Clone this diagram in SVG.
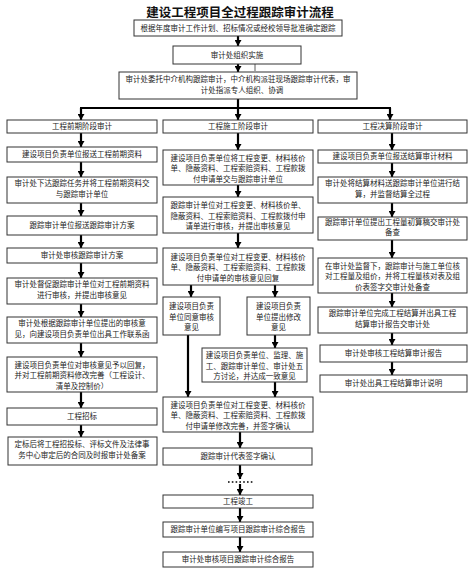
<svg xmlns="http://www.w3.org/2000/svg" width="474" height="568" viewBox="0 0 474 568">
<style>
.b{fill:#fff;stroke:#333;stroke-width:1}
.t{font-family:"Noto Sans CJK SC","Noto Sans",sans-serif;font-size:7.5px;fill:#222;text-anchor:middle}
.ti{font-family:"Noto Sans CJK SC","Noto Sans",sans-serif;font-size:12.5px;font-weight:bold;fill:#111;text-anchor:middle}
.c{stroke:#000;stroke-width:2.2;fill:none}
.ca{stroke:#000;stroke-width:2.2;fill:none;marker-end:url(#ah)}
</style>
<defs>
<marker id="ah" markerUnits="userSpaceOnUse" markerWidth="7" markerHeight="7" refX="6" refY="3.5" orient="auto">
<path d="M0,0 L6,3.5 L0,7 z" fill="#000"/>
</marker>
</defs>
<rect width="474" height="568" fill="#fff"/>
<text class="ti" x="240" y="16.5">建设工程项目全过程跟踪审计流程</text>

<g id="connectors">
<line class="ca" x1="238" y1="36" x2="238" y2="46"/>
<line class="ca" x1="238" y1="64" x2="238" y2="72"/>
<line x1="255" y1="56" x2="255" y2="71" stroke="#333" stroke-width="0.8"/>
<line class="c" x1="238" y1="99" x2="238" y2="108"/>
<line class="c" x1="80" y1="108" x2="391" y2="108"/>
<line class="ca" x1="81" y1="108" x2="81" y2="120"/>
<line class="ca" x1="238" y1="108" x2="238" y2="120"/>
<line class="ca" x1="390" y1="108" x2="390" y2="120"/>
<!-- left -->
<line class="ca" x1="81" y1="133" x2="81" y2="147"/>
<line class="ca" x1="81" y1="162" x2="81" y2="177"/>
<line class="ca" x1="81" y1="203" x2="81" y2="216"/>
<line class="ca" x1="81" y1="235" x2="81" y2="248"/>
<line class="ca" x1="81" y1="263" x2="81" y2="278"/>
<line class="ca" x1="81" y1="304" x2="81" y2="317"/>
<line class="ca" x1="81" y1="343" x2="81" y2="357"/>
<line class="ca" x1="81" y1="392" x2="81" y2="408"/>
<line class="ca" x1="81" y1="425" x2="81" y2="437"/>
<!-- middle -->
<line class="ca" x1="238" y1="133" x2="238" y2="150"/>
<line class="ca" x1="238" y1="185" x2="238" y2="197"/>
<line class="ca" x1="238" y1="233" x2="238" y2="248"/>
<line class="ca" x1="191" y1="285" x2="191" y2="297"/>
<line class="ca" x1="275" y1="285" x2="275" y2="297"/>
<line class="ca" x1="188" y1="335" x2="188" y2="397"/>
<line class="ca" x1="275" y1="335" x2="275" y2="348"/>
<line class="ca" x1="275" y1="382" x2="275" y2="397"/>
<line class="ca" x1="240" y1="432" x2="240" y2="448"/>
<line class="ca" x1="240" y1="465" x2="240" y2="479"/>
<line x1="228" y1="482" x2="254" y2="482" stroke="#000" stroke-width="1.6" stroke-dasharray="1.6,2.2"/>
<line class="ca" x1="240" y1="484" x2="240" y2="495"/>
<line class="ca" x1="240" y1="508" x2="240" y2="522"/>
<line class="ca" x1="240" y1="537" x2="240" y2="552"/>
<!-- right -->
<line class="ca" x1="392" y1="133" x2="392" y2="150"/>
<line class="ca" x1="392" y1="163" x2="392" y2="177"/>
<line class="ca" x1="392" y1="203" x2="392" y2="217"/>
<line class="ca" x1="392" y1="240" x2="392" y2="258"/>
<line class="ca" x1="392" y1="293" x2="392" y2="307"/>
<line class="ca" x1="392" y1="333" x2="392" y2="345"/>
<line class="ca" x1="392" y1="362" x2="392" y2="375"/>
</g>

<g id="top1"><rect class="b" x="134" y="20" width="208" height="16"/><text class="t" x="238" y="30.7">根据年度审计工作计划、招标情况或经校领导批准确定跟踪</text></g>
<g id="top2"><rect class="b" x="173" y="46" width="128" height="18"/><text class="t" x="237" y="57.7">审计处组织实施</text></g>
<g id="top3"><rect class="b" x="119" y="72" width="238" height="27"/><text class="t" x="238" y="82">审计处委托中介机构跟踪审计，中介机构派驻现场跟踪审计代表，审</text><text class="t" x="242" y="93">计处指派专人组织、协调</text></g>

<g id="L1"><rect class="b" x="7" y="120" width="150" height="13"/><text class="t" x="82" y="129.2">工程前期阶段审计</text></g>
<g id="L2"><rect class="b" x="7" y="147" width="150" height="15"/><text class="t" x="82" y="157.2">建设项目负责单位报送工程前期资料</text></g>
<g id="L3"><rect class="b" x="7" y="177" width="150" height="26"/><text class="t" x="82" y="186">审计处下达跟踪任务并将工程前期资料交</text><text class="t" x="82" y="196.5">与跟踪审计单位</text></g>
<g id="L4"><rect class="b" x="7" y="216" width="150" height="19"/><text class="t" x="82" y="228.2">跟踪审计单位报送跟踪审计方案</text></g>
<g id="L5"><rect class="b" x="7" y="248" width="150" height="15"/><text class="t" x="82" y="258.2">审计处审核跟踪审计方案</text></g>
<g id="L6"><rect class="b" x="7" y="278" width="150" height="26"/><text class="t" x="82" y="287">审计处督促跟踪审计单位对工程前期资料</text><text class="t" x="82" y="297.5">进行审核，并提出审核意见</text></g>
<g id="L7"><rect class="b" x="7" y="317" width="150" height="26"/><text class="t" x="82" y="326">审计处根据跟踪审计单位提出的审核意</text><text class="t" x="82" y="336.5">见，向建设项目负责单位出具工作联系函</text></g>
<g id="L8"><rect class="b" x="7" y="357" width="150" height="35"/><text class="t" x="82" y="367.7">建设项目负责单位对审核意见予以回复，</text><text class="t" x="82" y="378.2">并对工程前期资料修改完善（工程设计、</text><text class="t" x="82" y="388.7">清单及控制价）</text></g>
<g id="L9"><rect class="b" x="7" y="408" width="150" height="17"/><text class="t" x="82" y="419.2">工程招标</text></g>
<g id="L10"><rect class="b" x="8" y="437" width="149" height="28"/><text class="t" x="82" y="447">定标后将工程招投标、评标文件及法律事</text><text class="t" x="82" y="457.5">务中心审定后的合同及时报审计处备案</text></g>

<g id="M1"><rect class="b" x="163" y="120" width="150" height="13"/><text class="t" x="238" y="129.2">工程施工阶段审计</text></g>
<g id="M2"><rect class="b" x="163" y="150" width="150" height="35"/><text class="t" x="238" y="160.7">建设项目负责单位将工程变更、材料核价</text><text class="t" x="238" y="171.2">单、隐蔽资料、工程索赔资料、工程款拨</text><text class="t" x="238" y="181.7">付申请单交与跟踪审计单位</text></g>
<g id="M3"><rect class="b" x="163" y="197" width="150" height="36"/><text class="t" x="238" y="208.2">跟踪审计单位对工程变更、材料核价单、</text><text class="t" x="238" y="218.7">隐蔽资料、工程索赔资料、工程款拨付申</text><text class="t" x="238" y="229.2">请单进行审核，并提出审核意见</text></g>
<g id="M4"><rect class="b" x="163" y="248" width="150" height="37"/><text class="t" x="238" y="259.7">建设项目负责单位对工程变更、材料核价</text><text class="t" x="238" y="270.2">单、隐蔽资料、工程索赔资料、工程款拨</text><text class="t" x="238" y="280.7">付申请单的审核意见回复</text></g>
<g id="M5a"><rect class="b" x="163" y="297" width="57" height="38"/><text class="t" x="191.5" y="309.2">建设项目负责</text><text class="t" x="191.5" y="319.7">单位同意审核</text><text class="t" x="191.5" y="330.2">意见</text></g>
<g id="M5b"><rect class="b" x="247" y="297" width="63" height="38"/><text class="t" x="278.5" y="309.2">建设项目负责</text><text class="t" x="278.5" y="319.7">单位提出修改</text><text class="t" x="278.5" y="330.2">意见</text></g>
<g id="M6"><rect class="b" x="202" y="348" width="105" height="34"/><text class="t" x="254.5" y="358.2">建设项目负责单位、监理、施</text><text class="t" x="254.5" y="368.7">工、跟踪审计单位、审计处五</text><text class="t" x="254.5" y="379.2">方讨论，并达成一致意见</text></g>
<g id="M7"><rect class="b" x="163" y="397" width="150" height="35"/><text class="t" x="238" y="407.7">建设项目负责单位对工程变更、材料核价</text><text class="t" x="238" y="418.2">单、隐蔽资料、工程索赔资料、工程款拨</text><text class="t" x="238" y="428.7">付申请单修改完善，并签字确认</text></g>
<g id="M8"><rect class="b" x="163" y="448" width="149" height="17"/><text class="t" x="238" y="459.2">跟踪审计代表签字确认</text></g>
<g id="M9"><rect class="b" x="163" y="495" width="150" height="13"/><text class="t" x="238" y="504.2">工程竣工</text></g>
<g id="M10"><rect class="b" x="163" y="522" width="150" height="15"/><text class="t" x="238" y="532.2">跟踪审计单位编写项目跟踪审计综合报告</text></g>
<g id="M11"><rect class="b" x="163" y="552" width="150" height="15"/><text class="t" x="238" y="562.2">审计处审核项目跟踪审计综合报告</text></g>

<g id="R1"><rect class="b" x="318" y="120" width="149" height="13"/><text class="t" x="392.5" y="129.2">工程决算阶段审计</text></g>
<g id="R2"><rect class="b" x="318" y="150" width="149" height="13"/><text class="t" x="392.5" y="159.2">建设项目负责单位报送结算审计材料</text></g>
<g id="R3"><rect class="b" x="318" y="177" width="149" height="26"/><text class="t" x="392.5" y="186">审计处将结算材料送跟踪审计单位进行结</text><text class="t" x="392.5" y="196.5">算，并监督结算全过程</text></g>
<g id="R4"><rect class="b" x="318" y="217" width="149" height="23"/><text class="t" x="392.5" y="224.5">跟踪审计单位提出工程量初算稿交审计处</text><text class="t" x="392.5" y="235">备查</text></g>
<g id="R5"><rect class="b" x="318" y="258" width="149" height="35"/><text class="t" x="392.5" y="268.7">在审计处监督下，跟踪审计与施工单位核</text><text class="t" x="392.5" y="279.2">对工程量及组价，并将工程量核对表及组</text><text class="t" x="392.5" y="289.7">价表签字交审计处备查</text></g>
<g id="R6"><rect class="b" x="318" y="307" width="149" height="26"/><text class="t" x="392.5" y="316">跟踪审计单位完成工程结算并出具工程</text><text class="t" x="392.5" y="326.5">结算审计报告交审计处</text></g>
<g id="R7"><rect class="b" x="320" y="345" width="147" height="17"/><text class="t" x="393.5" y="356.2">审计处审核工程结算审计报告</text></g>
<g id="R8"><rect class="b" x="320" y="375" width="147" height="17"/><text class="t" x="393.5" y="386.2">审计处出具工程结算审计说明</text></g>
</svg>
